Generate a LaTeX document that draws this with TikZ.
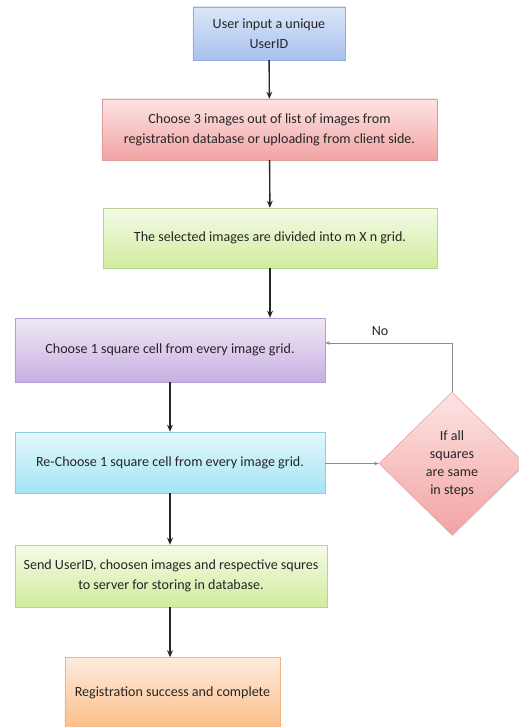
\documentclass[tikz,border=0pt]{standalone}
\usepackage{fontspec}
\setmainfont{Carlito}
\usepackage{xcolor}
\definecolor{REGtext}{HTML}{262626}
\definecolor{REGblueT}{HTML}{DCE6F8}
\definecolor{REGblueB}{HTML}{A8C1EF}
\definecolor{REGblueL}{HTML}{93AEDD}
\definecolor{REGredT}{HTML}{FDE4E4}
\definecolor{REGredB}{HTML}{F2A3A3}
\definecolor{REGredL}{HTML}{DE9C9C}
\definecolor{REGgreenT}{HTML}{F5FBE7}
\definecolor{REGgreenB}{HTML}{D0EC9E}
\definecolor{REGgreenL}{HTML}{B8D58E}
\definecolor{REGpurpleT}{HTML}{F0E9F7}
\definecolor{REGpurpleB}{HTML}{C7AFE1}
\definecolor{REGpurpleL}{HTML}{B49ED0}
\definecolor{REGcyanT}{HTML}{E4F8FC}
\definecolor{REGcyanB}{HTML}{A4E4F5}
\definecolor{REGcyanL}{HTML}{8DCFE0}
\definecolor{REGorangeT}{HTML}{FDEBDD}
\definecolor{REGorangeB}{HTML}{FBBE88}
\definecolor{REGorangeL}{HTML}{EDB385}
\definecolor{REGloop}{HTML}{8C8C8C}
\usepackage{tikz}
\usetikzlibrary{arrows.meta, shapes.geometric, shadows, calc}

\begin{document}
\begin{tikzpicture}[x=0.03cm, y=-0.03cm]
    \tikzset{
  stepbox/.style={rectangle, draw, thin, align=center, inner sep=2pt,
    text=REGtext, font=\fontsize{12}{17}\selectfont,
    drop shadow={opacity=0.25, shadow xshift=0.8pt, shadow yshift=-1pt}},
  checkbox/.style={diamond, draw=REGredL, thin, align=center, inner sep=0pt,
    top color=REGredT, bottom color=REGredB, text=REGtext,
    font=\fontsize{12}{15.5}\selectfont,
    drop shadow={opacity=0.25, shadow xshift=0.8pt, shadow yshift=-1pt}},
  flowarrow/.style={-{Stealth[length=6pt, width=5pt]}, black!85, line width=1.2pt},
  looparrow/.style={-{Stealth[length=4pt, width=3pt]}, REGloop, thin},
  looplab/.style={text=REGtext, font=\fontsize{12}{14}\selectfont},
}
\useasboundingbox (0,0) rectangle (518,727);

% ── Main column of steps ────────────────────────────────────
\node[stepbox, draw=REGblueL, top color=REGblueT, bottom color=REGblueB,
      minimum width=4.56cm, minimum height=1.59cm] (userid) at (269, 33.5)
  {User input a unique\\UserID};

\node[stepbox, draw=REGredL, top color=REGredT, bottom color=REGredB,
      minimum width=10.05cm, minimum height=1.83cm] (choose) at (269.5, 129.5)
  {Choose 3 images out of list of images from\\registration database or uploading from client side.};

\node[stepbox, draw=REGgreenL, top color=REGgreenT, bottom color=REGgreenB,
      minimum width=10.02cm, minimum height=1.8cm] (divide) at (270, 238)
  {The selected images are divided into m X n grid.};

\node[stepbox, draw=REGpurpleL, top color=REGpurpleT, bottom color=REGpurpleB,
      minimum width=9.3cm, minimum height=1.92cm] (pick) at (170, 350)
  {Choose 1 square cell from every image grid.};

\node[stepbox, draw=REGcyanL, top color=REGcyanT, bottom color=REGcyanB,
      minimum width=9.3cm, minimum height=1.83cm] (repick) at (170, 462.5)
  {Re-Choose 1 square cell from every image grid.};

\node[stepbox, draw=REGgreenL, top color=REGgreenT, bottom color=REGgreenB,
      minimum width=9.36cm, minimum height=1.86cm] (send) at (171, 576)
  {Send UserID, choosen images and respective squres\\to server for storing in database.};

\node[stepbox, draw=REGorangeL, top color=REGorangeT, bottom color=REGorangeB,
      minimum width=6.45cm, minimum height=2.13cm] (done) at (172.5, 693)
  {Registration success and complete};

% ── Decision ────────────────────────────────────────────────
\node[checkbox, minimum width=4.38cm, minimum height=4.29cm] (check) at (452, 463.5)
  {If all\\squares\\are same\\in steps};

% ── Flow arrows ─────────────────────────────────────────────
\draw[flowarrow] (userid) -- (choose);
\draw[flowarrow] (choose) -- (divide);
\draw[flowarrow] (divide) -- (pick.north -| divide);
\draw[flowarrow] (pick) -- (repick);
\draw[flowarrow] (repick) -- (send.north -| repick);
\draw[flowarrow] (send.south -| repick) -- (done.north -| repick);

% ── Loop back ───────────────────────────────────────────────
\draw[looparrow] (repick.east |- check.west) -- (check.west);
\coordinate (turn) at (452, 343);
\draw[looparrow] (check.north) -- (turn) -- (pick.east |- turn);
\node[looplab] (nolab) at (380, 331) {No};

\end{tikzpicture}
\end{document}
